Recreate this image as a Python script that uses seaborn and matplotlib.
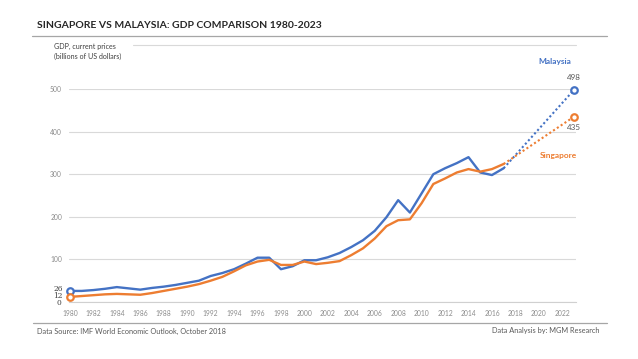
import numpy as np
import pandas as pd
import matplotlib
matplotlib.use("Agg")
import matplotlib.pyplot as plt
import seaborn as sns

# GDP, current prices (billions of US dollars)
years = list(range(1980, 2018))
malaysia = [26, 26, 28, 31, 35, 32, 29, 33, 36, 40, 45, 50, 61, 68, 77, 90, 104, 104, 77, 84,
            98, 98, 105, 115, 129, 145, 167, 199, 239, 210, 255, 300, 314, 326, 340, 304, 298, 314]
singapore = [12, 14, 16, 18, 19, 18, 17, 21, 26, 31, 36, 42, 50, 59, 72, 86, 95, 99, 87, 87,
             95, 89, 92, 96, 110, 126, 149, 178, 192, 194, 232, 277, 290, 304, 312, 306, 312, 324]
forecast_years = [2017, 2023]
malaysia_fc = [314, 498]
singapore_fc = [324, 435]
tick_years = list(range(1980, 2023, 2))
y_ticks = [0, 100, 200, 300, 400, 500]

BLUE = "#4472C4"
ORANGE = "#ED7D31"

sns.set_style("white")
plt.rcParams["font.family"] = ["Lato", "DejaVu Sans"]

W, H = 638, 359
fig = plt.figure(figsize=(W / 100, H / 100), dpi=100)
ax = fig.add_axes([69 / W, (H - 302) / H, (576 - 69) / W, (302 - 89) / H])

hist = pd.DataFrame({"year": years, "Malaysia": malaysia, "Singapore": singapore})
fc = pd.DataFrame({"year": forecast_years, "Malaysia": malaysia_fc, "Singapore": singapore_fc})

sns.lineplot(data=hist, x="year", y="Malaysia", color=BLUE, lw=1.7, ax=ax, zorder=3)
sns.lineplot(data=hist, x="year", y="Singapore", color=ORANGE, lw=1.7, ax=ax, zorder=3)
sns.lineplot(data=fc, x="year", y="Malaysia", color=BLUE, lw=1.5, ls=(0, (1, 1.2)), ax=ax, zorder=3)
sns.lineplot(data=fc, x="year", y="Singapore", color=ORANGE, lw=1.5, ls=(0, (1, 1.2)), ax=ax, zorder=3)

# open circle markers at the ends
for xs, ys, c in [([years[0], forecast_years[-1]], [malaysia[0], malaysia_fc[-1]], BLUE),
                  ([years[0], forecast_years[-1]], [singapore[0], singapore_fc[-1]], ORANGE)]:
    ax.scatter(xs, ys, s=22, facecolor="white", edgecolor=c, linewidth=1.6, zorder=5, clip_on=False)

ax.set_xlim(1979.92, 2023.17)
ax.set_ylim(0, 500)
ax.set_xticks(tick_years)
ax.set_xticklabels([str(y) for y in tick_years])
ax.set_xticks(list(range(1985, 2021, 5)), minor=True)
ax.set_yticks(y_ticks)
ax.set_yticklabels([str(v) if v else "" for v in y_ticks])
ax.tick_params(axis="both", which="major", length=0, labelsize=4.9, labelcolor="#8c8c8c", pad=6)
ax.tick_params(axis="y", pad=5)
ax.tick_params(axis="x", which="minor", direction="in", length=3, color="#d0d0d0", width=0.6)
ax.set_xlabel("")
ax.set_ylabel("")
ax.grid(axis="y", color="#d9d9d9", lw=0.8)
ax.grid(axis="x", visible=False)
for s in ["top", "right", "left"]:
    ax.spines[s].set_visible(False)
ax.spines["bottom"].set_color("#d0d0d0")
ax.spines["bottom"].set_linewidth(0.8)

# data labels
lab = dict(textcoords="offset pixels", ha="center", va="center", annotation_clip=False)
small = dict(fontsize=5.4, color="#404040", family=["DejaVu Serif"])
ax.annotate("26", (years[0], malaysia[0]), xytext=(-12, 2), **small, **lab)
ax.annotate("12", (years[0], singapore[0]), xytext=(-12, 0.5), **small, **lab)
ax.annotate("0", (years[0], 0), xytext=(-11, -1), **small, **lab)
ax.annotate("498", (2023, malaysia_fc[-1]), xytext=(0, 12), fontsize=5.8, color="#595959", **lab)
ax.annotate("435", (2023, singapore_fc[-1]), xytext=(0, -11), fontsize=5.8, color="#595959", **lab)
ax.annotate("Malaysia", (2023, malaysia_fc[-1]), xytext=(-19, 28), fontsize=6, color=BLUE,
            fontweight="bold", **lab)
ax.annotate("Singapore", (2023, singapore_fc[-1]), xytext=(-16, -39), fontsize=6, color=ORANGE,
            fontweight="bold", **lab)

# titles, notes and rules
fig.text(37 / W, 1 - 26 / H, "SINGAPORE VS MALAYSIA: GDP COMPARISON 1980-2023", fontsize=7.5,
         fontweight="bold", color="#262626", va="center", ha="left")
fig.text(54 / W, 1 - 51.5 / H, "GDP, current prices\n(billions of US dollars)", fontsize=5.1,
         color="#404040", va="center", ha="left", linespacing=1.5)
fig.text(37 / W, 1 - 331 / H, "Data Source: IMF World Economic Outlook, October 2018", fontsize=5.3,
         color="#595959", va="center", ha="left")
fig.text(600 / W, 1 - 331 / H, "Data Analysis by: MGM Research", fontsize=5.3,
         color="#595959", va="center", ha="right")
fig.add_artist(plt.Line2D([32 / W, 607 / W], [1 - 36 / H] * 2, color="#a6a6a6", lw=0.9))
fig.add_artist(plt.Line2D([133 / W, 576 / W], [1 - 45 / H] * 2, color="#d9d9d9", lw=0.8))
fig.add_artist(plt.Line2D([33 / W, 607 / W], [1 - 323 / H] * 2, color="#a6a6a6", lw=0.9))

fig.savefig("out.png", dpi=100)
